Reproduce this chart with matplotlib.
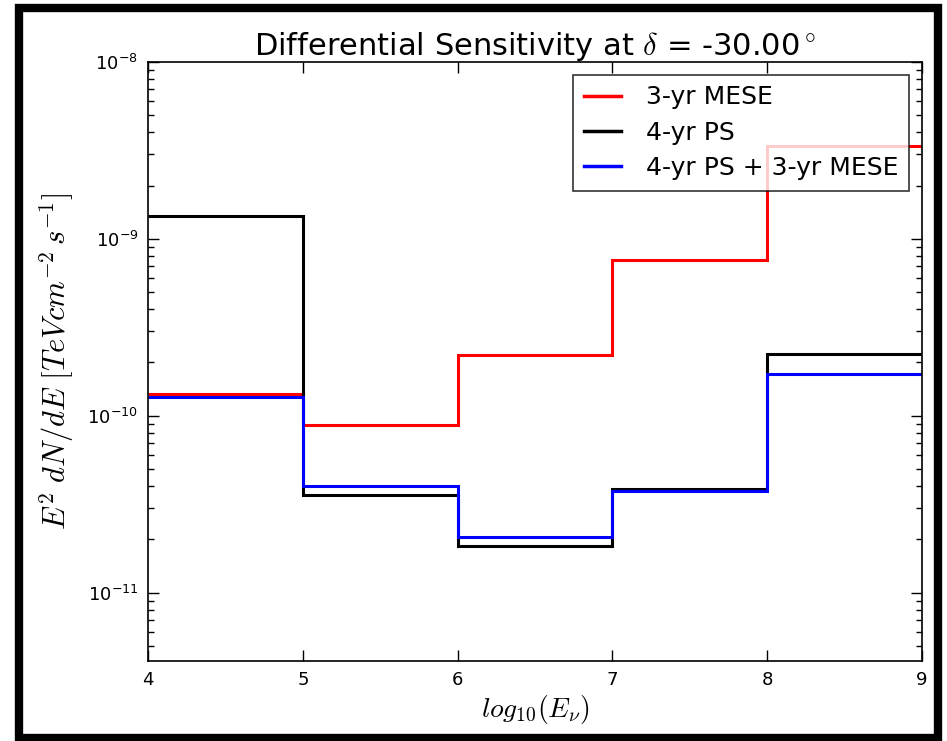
import matplotlib
matplotlib.use("Agg")
import matplotlib.pyplot as plt
from matplotlib.patches import Rectangle
from matplotlib.ticker import FixedLocator, FixedFormatter, LogLocator

plt.rcParams['mathtext.fontset'] = 'cm'
plt.rcParams['font.family'] = 'DejaVu Sans'

# energy bin edges in log10(E/GeV)
bin_edges = [4, 5, 6, 7, 8, 9]

# differential sensitivity per decade, TeV cm^-2 s^-1
mese_3yr = [1.32e-10, 8.9e-11, 2.21e-10, 7.6e-10, 3.37e-9]
ps_4yr = [1.34e-9, 3.55e-11, 1.83e-11, 3.87e-11, 2.22e-10]
ps_plus_mese = [1.27e-10, 4.02e-11, 2.06e-11, 3.75e-11, 1.73e-10]

y_ticks = [1e-11, 1e-10, 1e-9, 1e-8]
y_tick_labels = [r'$\mathregular{10^{-11}}$', r'$\mathregular{10^{-10}}$',
                 r'$\mathregular{10^{-9}}$', r'$\mathregular{10^{-8}}$']

fig = plt.figure(figsize=(9.47, 7.41), dpi=100)
ax = fig.add_axes([0.1563, 0.108, 0.8173, 0.8083])

ax.stairs(mese_3yr, bin_edges, baseline=None, color='red', linewidth=2.2,
          label='3-yr MESE')
ax.stairs(ps_4yr, bin_edges, baseline=None, color='black', linewidth=2.2,
          label='4-yr PS')
ax.stairs(ps_plus_mese, bin_edges, baseline=None, color='blue', linewidth=2.2,
          label='4-yr PS + 3-yr MESE')

ax.set_yscale('log')
ax.set_xlim(4, 9)
ax.set_ylim(4.1e-12, 1e-8)

ax.yaxis.set_major_locator(FixedLocator(y_ticks))
ax.yaxis.set_major_formatter(FixedFormatter(y_tick_labels))
ax.yaxis.set_minor_locator(LogLocator(base=10, subs=range(2, 10)))

ax.tick_params(which='both', direction='in', top=True, right=True,
               labelsize=13, width=1)
ax.tick_params(which='major', length=8, pad=7)
ax.tick_params(which='minor', length=4)
ax.tick_params(axis='x', which='minor', top=False, bottom=False)
for spine in ax.spines.values():
    spine.set_linewidth(1.2)

ax.set_title(r'Differential Sensitivity at $\delta$ = -30.00$^\circ$',
             fontsize=22, pad=5)
ax.set_xlabel(r'$log_{10}(E_\nu)$', fontsize=20, labelpad=3)
ax.set_ylabel(r'$E^2\ dN/dE\ [TeV cm^{-2}\,s^{-1}]$', fontsize=22, labelpad=8)

leg = ax.legend(loc='upper right', fontsize=18, fancybox=False,
                handlelength=1.5, handletextpad=1.0, borderpad=0.43,
                borderaxespad=0.5, labelspacing=0.45)
leg.get_frame().set_edgecolor('black')
leg.get_frame().set_linewidth(1.2)
for line in leg.get_lines():
    line.set_linewidth(2.5)

# heavy black frame round the whole figure
fig.patches.append(Rectangle((19 / 947, 3 / 741), 919 / 947, 730 / 741,
                             transform=fig.transFigure, fill=False,
                             edgecolor='black', linewidth=6))

fig.savefig('out.png', dpi=100)
